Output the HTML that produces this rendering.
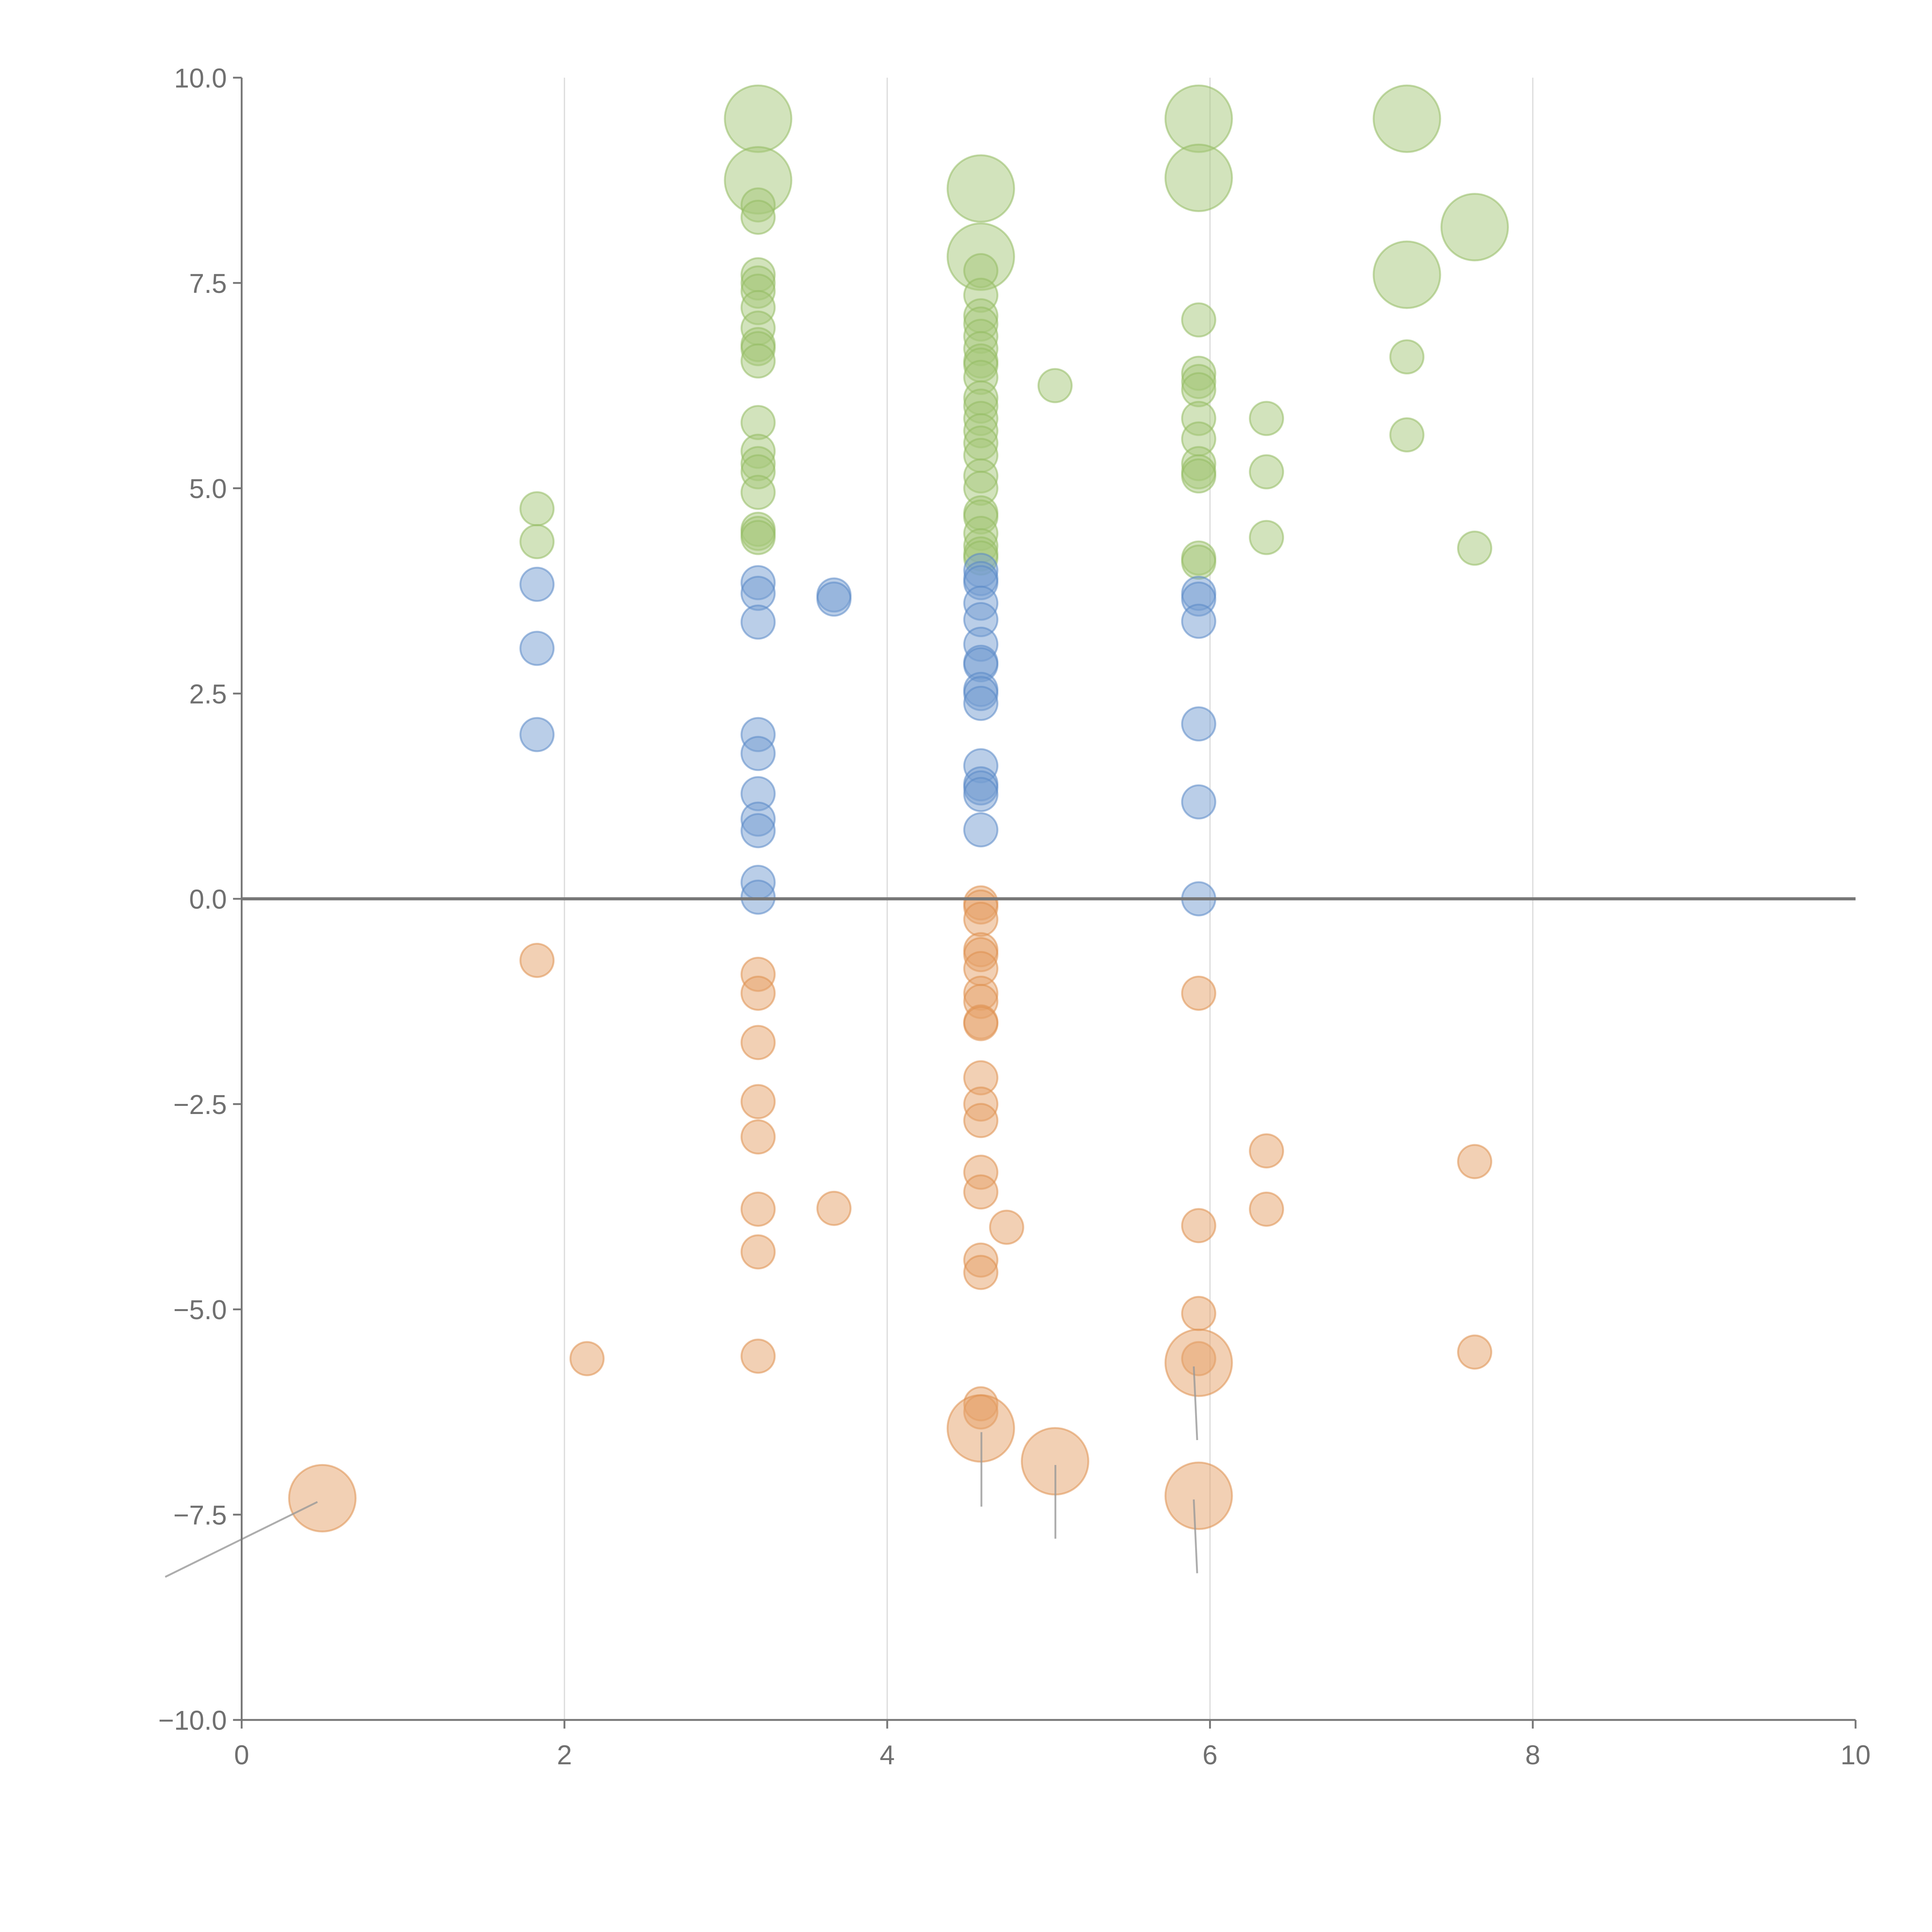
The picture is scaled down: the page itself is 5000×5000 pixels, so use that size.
<!DOCTYPE html>
<html><head><meta charset="utf-8"><style>
html,body{margin:0;padding:0;background:#fff;}
svg{display:block;}
text{font-family:"Liberation Sans",sans-serif;}
</style></head><body>
<svg id="chart" width="5000" height="5000" viewBox="0 0 1567 1567" xmlns="http://www.w3.org/2000/svg">
<g id="grid"></g>
<g id="marks"></g>
<g id="axes"></g>
</svg>
<script>
const xTicks=[0,2,4,6,8,10];
const yTicks=[10,7.5,5,2.5,0,-2.5,-5,-7.5,-10];
const yTickLabels=["10.0","7.5","5.0","2.5","0.0","\u22122.5","\u22125.0","\u22127.5","\u221210.0"];
const greenX=[1.83,1.83, 3.2,3.2,3.2,3.2,3.2,3.2,3.2,3.2,3.2,3.2,3.2,3.2,3.2,3.2,3.2,3.2,3.2,3.2,3.2,3.2,
4.58,4.58,4.58,4.58,4.58,4.58,4.58,4.58,4.58,4.58,4.58,4.58,4.58,4.58,4.58,4.58,4.58,4.58,4.58,4.58,4.58,4.58,4.58,4.58,4.58,
5.04, 5.93,5.93,5.93,5.93,5.93,5.93,5.93,5.93,5.93,5.93,5.93,5.93,5.93, 6.35,6.35,6.35, 7.22,7.22,7.22,7.22, 7.64,7.64];
const greenY=[4.75,4.35, 9.5,8.75,8.45,8.3,7.6,7.5,7.4,7.2,6.95,6.75,6.7,6.55,5.8,5.45,5.3,5.2,4.95,4.5,4.45,4.4,
8.65,7.82,7.65,7.35,7.1,7.0,6.85,6.7,6.55,6.5,6.35,6.1,6.0,5.85,5.7,5.55,5.4,5.15,5.0,4.7,4.65,4.45,4.3,4.2,4.15,
6.25, 9.5,8.78,7.05,6.4,6.3,6.2,5.85,5.6,5.3,5.2,5.15,4.15,4.1, 5.85,5.2,4.4, 9.5,7.6,6.6,5.65, 8.18,4.27];
const greenBig=[0,0, 1,1,0,0,0,0,0,0,0,0,0,0,0,0,0,0,0,0,0,0,
1,1,0,0,0,0,0,0,0,0,0,0,0,0,0,0,0,0,0,0,0,0,0,0,0,
0, 1,1,0,0,0,0,0,0,0,0,0,0,0, 0,0,0, 1,1,0,0, 1,0];
const blueX=[1.83,1.83,1.83, 3.2,3.2,3.2,3.2,3.2,3.2,3.2,3.2,3.2,3.2, 3.67,3.67,
4.58,4.58,4.58,4.58,4.58,4.58,4.58,4.58,4.58,4.58,4.58,4.58,4.58,4.58,4.58,4.58, 5.93,5.93,5.93,5.93,5.93,5.93];
const blueY=[3.83,3.05,2.0, 3.85,3.72,3.37,2.0,1.77,1.28,0.97,0.83,0.2,0.02, 3.7,3.65,
4.0,3.9,3.85,3.6,3.4,3.1,2.88,2.85,2.55,2.5,2.38,1.62,1.4,1.35,1.27,0.84, 3.72,3.65,3.38,2.13,1.18,0.0];
const orangeX=[1.83,2.14,0.5, 3.2,3.2,3.2,3.2,3.2,3.2,3.2,3.2, 3.67,
4.58,4.58,4.58,4.58,4.58,4.58,4.58,4.58,4.58,4.58,4.58,4.58,4.58,4.58,4.58,4.58,4.58,4.58,4.58,4.58,
4.74,5.04, 5.93,5.93,5.93,5.93,5.93,5.93, 6.35,6.35, 7.64,7.64];
const orangeY=[-0.75,-5.6,-7.3, -0.92,-1.15,-1.75,-2.47,-2.9,-3.78,-4.3,-5.57, -3.77,
-0.05,-0.1,-0.25,-0.62,-0.68,-0.85,-1.15,-1.25,-1.5,-1.52,-2.18,-2.5,-2.7,-3.33,-3.57,-4.4,-4.55,-6.15,-6.25,-6.45,
-4.0,-6.85, -1.15,-3.98,-5.05,-5.6,-5.65,-7.27, -3.07,-3.78, -3.2,-5.52];
const orangeBig=[0,0,1, 0,0,0,0,0,0,0,0, 0, 0,0,0,0,0,0,0,0,0,0,0,0,0,0,0,0,0,0,0,1, 0,1, 0,0,0,0,1,1, 0,0, 0,0];

const NS="http://www.w3.org/2000/svg";
const X0=196,X1=1505,Y0=1395,Y1=63;
function sx(v){return X0+(v-0)/(10-0)*(X1-X0);}
function sy(v){return Y0-(v+10)/20*(Y0-Y1);}
function mk(tag,attrs,parent){const e=document.createElementNS(NS,tag);for(const k in attrs)e.setAttribute(k,attrs[k]);parent.appendChild(e);return e;}
const grid=document.getElementById('grid'),marks=document.getElementById('marks'),axes=document.getElementById('axes');

xTicks.forEach(t=>{ if(t>0&&t<10){
  const l=mk('line',{x1:sx(t),x2:sx(t),y1:Y1,y2:Y0,stroke:'#dcdcdc','stroke-width':1},grid);
  
  
}});

function series(xs,ys,bigs,fill,stroke,name){
  xs.forEach((x,i)=>{
    const big=bigs?bigs[i]:0;
    const c=mk('circle',{cx:sx(x),cy:sy(ys[i]),r:big?27:13.5,fill:fill,'fill-opacity':0.5,stroke:stroke,'stroke-opacity':0.55,'stroke-width':1.5},marks);
    
    
  });
}
series(greenX,greenY,greenBig,'#a6c77a','#94bb62','green');
series(blueX,blueY,null,'#759dd2','#5a88c6','blue');
series(orangeX,orangeY,orangeBig,'#e6a26a','#de8f4e','orange');

const leaders=[[0.5,-7.3,134,1279],[4.58,-6.45,796,1222],[5.04,-6.85,856,1248],[5.93,-5.65,971,1168],[5.93,-7.27,971,1276]];
leaders.forEach(d=>{
  const l=mk('line',{x1:d[2]<sx(d[0])?sx(d[0])-4:d[2],y1:sy(d[1])+3,x2:d[2],y2:d[3],stroke:'#999','stroke-width':1.5,'stroke-opacity':0.8},marks);
  
  
});

const z=mk('line',{x1:X0,x2:X1,y1:sy(0),y2:sy(0),stroke:'#777','stroke-width':2.5},axes);


const xa=mk('line',{x1:X0,x2:X1,y1:Y0,y2:Y0,stroke:'#777','stroke-width':1.5},axes);


const ya=mk('line',{x1:X0,x2:X0,y1:Y1,y2:Y0,stroke:'#777','stroke-width':1.5},axes);



xTicks.forEach(t=>{
  const l=mk('line',{x1:sx(t),x2:sx(t),y1:Y0,y2:Y0+7,stroke:'#777','stroke-width':1.5},axes);
  
  
  const tx=mk('text',{x:sx(t),y:Y0+36,'text-anchor':'middle','font-size':22,fill:'#707070'},axes);
  tx.textContent=String(t);
  
  
});
yTicks.forEach((t,i)=>{
  const l=mk('line',{x1:X0-7,x2:X0,y1:sy(t),y2:sy(t),stroke:'#777','stroke-width':1.5},axes);
  
  
  const tx=mk('text',{x:X0-12,y:sy(t)+8,'text-anchor':'end','font-size':22,fill:'#707070'},axes);
  tx.textContent=yTickLabels[i];
  
  
});
</script>
</body></html>
